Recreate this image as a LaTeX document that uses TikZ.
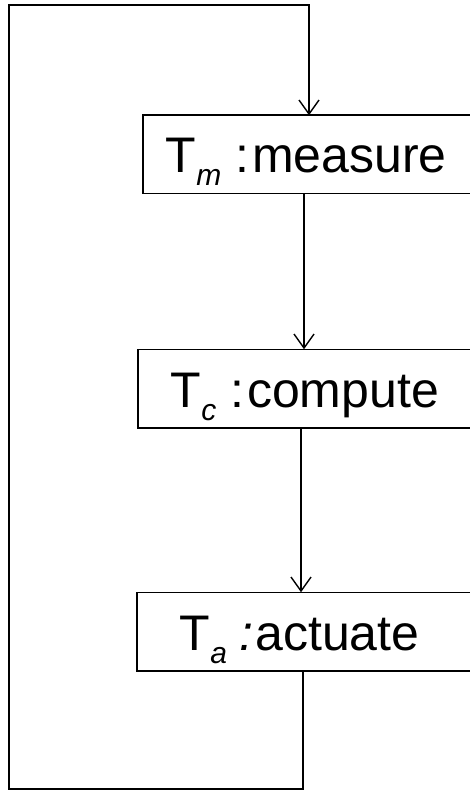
\documentclass[tikz,border=0pt]{standalone}
\usepackage{fontspec}
\setmainfont{Liberation Sans}
\usetikzlibrary{arrows.meta}

% lowered italic index after the T
\newcommand{\tsub}[1]{\raisebox{-13pt}{\fontsize{30}{30}\selectfont\itshape #1}}

\begin{document}
\begin{tikzpicture}[x=1pt, y=-1pt, line width=1.5pt, >={Straight Barb[length=14pt, width=20pt, line width=1.4pt]}]
	\clip (0,0) rectangle (470,791);
	\tikzstyle{every node} = [rectangle, anchor=base west, inner ysep=0pt, text height=57pt, text depth=20pt, font=\fontsize{50}{58}\selectfont]
	\node[inner xsep=22pt] (meas) at (143, 173) {T\tsub{m}\hspace{14pt}:\hspace{3pt}measure};
	\node[inner xsep=32pt] (comp) at (138, 407) {T\tsub{c}\hspace{14pt}:\hspace{3pt}compute};
	\node[inner xsep=42pt] (act) at (137, 650) {T\tsub{a}\hspace{13pt}\textit{:}\hspace{1.5pt}actuate};
	% boxes run on past the right edge
	\foreach \t in {meas, comp, act}
		\draw (\t.north west) ++(360,0) -- (\t.north west) -- (\t.south west) -- ++(360,0);
	\coordinate (top) at (309, 5);
	\coordinate (tl) at (9, 5);
	\coordinate (bl) at (9, 789);
	\coordinate (br) at (303, 789);
	\coordinate (m2c) at (304, 0);
	\coordinate (c2a) at (301, 0);
	\draw [->] (m2c |- meas.south)--(m2c |- comp.north);
	\draw [->] (c2a |- comp.south)--(c2a |- act.north);
	\draw [->] (br |- act.south) -- (br) -- (bl) -- (tl) -- (top) -- (top |- meas.north);
\end{tikzpicture}
\end{document}
